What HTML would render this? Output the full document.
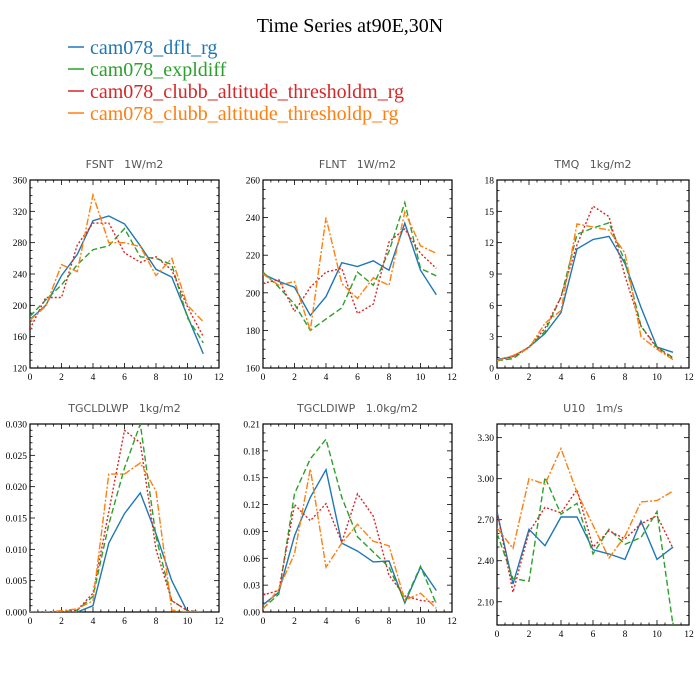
<!DOCTYPE html>
<html><head><meta charset="utf-8"><style>
body{margin:0;background:#fff}
svg{display:block}
.tl{font-family:"Liberation Serif",serif;font-size:9.5px;fill:#000}
.pt{font-family:"DejaVu Sans",sans-serif;font-size:11px;fill:#555;white-space:pre}
</style></head><body>
<svg id="c" width="700" height="700" viewBox="0 0 700 700">
<text x="350" y="32" text-anchor="middle" font-family="Liberation Serif,serif" font-size="20">Time Series at90E,30N</text>
<g>
<g><line x1="68" y1="47" x2="84" y2="47" stroke="#1f77b4" stroke-width="1.5"/><text x="90" y="54" font-family="Liberation Serif,serif" font-size="20" fill="#1f77b4">cam078_dflt_rg</text></g>
<g><line x1="68" y1="69" x2="84" y2="69" stroke="#2ca02c" stroke-width="1.5"/><text x="90" y="76" font-family="Liberation Serif,serif" font-size="20" fill="#2ca02c">cam078_expldiff</text></g>
<g><line x1="68" y1="91" x2="84" y2="91" stroke="#d62728" stroke-width="1.5"/><text x="90" y="98" font-family="Liberation Serif,serif" font-size="20" fill="#d62728">cam078_clubb_altitude_thresholdm_rg</text></g>
<g><line x1="68" y1="113" x2="84" y2="113" stroke="#ff7f0e" stroke-width="1.5"/><text x="90" y="120" font-family="Liberation Serif,serif" font-size="20" fill="#ff7f0e">cam078_clubb_altitude_thresholdp_rg</text></g>
</g>
</svg>
<script>
const months=[0,1,2,3,4,5,6,7,8,9,10,11];
const xTicks=[0,2,4,6,8,10,12];
const fsntDflt=[182,200,238,265,308,314,304,276,246,236,186,138];
const fsntExpl=[186,207,226,252,271,276,298,262,260,252,184,152];
const fsntTm=[170,210,210,277,305,305,267,255,262,245,198,160];
const fsntTp=[181,199,252,243,341,280,280,275,238,260,200,179];
const flntDflt=[210,206,203,188,198,216,214,217,212,237,212,199];
const flntExpl=[211,203,194,180,186,192,211,204,222,248,213,209];
const flntTm=[205,207,190,203,211,213,189,194,227,234,221,213];
const flntTp=[210,204,206,180,240,205,197,208,204,243,225,221];
const tmqDflt=[0.8,1.1,2.0,3.3,5.3,11.4,12.3,12.6,10,5.8,2.0,1.5];
const tmqExpl=[0.7,0.9,2.0,3.5,6.8,12.8,13.4,13.9,10.2,4.0,2.0,1.0];
const tmqTm=[0.7,1.1,2.0,3.8,6.8,11.8,15.5,14.5,8.8,4.0,1.9,0.9];
const tmqTp=[0.7,1.2,1.9,4.3,5.5,13.8,13.5,13.2,11.0,3.0,1.8,0.8];
const lwpDflt=[0,0,0,0,0.001,0.011,0.0157,0.019,0.0125,0.005,0,0];
const lwpExpl=[0,0,0,0.0003,0.0025,0.014,0.023,0.030,0.012,0.0018,0.0002,0];
const lwpTm=[0,0,0,0.0003,0.003,0.016,0.029,0.027,0.010,0.0018,0.0002,0];
const lwpTp=[0,0,0.0002,0.0005,0.0018,0.022,0.022,0.0238,0.0193,0.0003,0,0];
const iwpDflt=[0.008,0.022,0.085,0.128,0.159,0.077,0.068,0.056,0.057,0.010,0.050,0.024];
const iwpExpl=[0.004,0.020,0.132,0.171,0.193,0.128,0.084,0.067,0.050,0.012,0.051,0.009];
const iwpTm=[0.019,0.024,0.120,0.102,0.121,0.078,0.132,0.107,0.041,0.018,0.013,0.011];
const iwpTp=[0.003,0.026,0.065,0.160,0.050,0.077,0.098,0.079,0.074,0.013,0.021,0.004];
const u10Dflt=[2.76,2.23,2.63,2.51,2.72,2.72,2.48,2.45,2.41,2.69,2.41,2.50];
const u10Expl=[2.60,2.27,2.25,3.01,2.74,2.82,2.45,2.63,2.52,2.57,2.76,1.93];
const u10Tm=[2.76,2.17,2.61,2.79,2.75,2.92,2.50,2.62,2.56,2.67,2.73,2.49];
const u10Tp=[2.64,2.49,3.00,2.96,3.22,2.90,2.66,2.42,2.58,2.83,2.84,2.91];
const fsntTicks=["120","160","200","240","280","320","360"];
const flntTicks=["160","180","200","220","240","260"];
const tmqTicks=["0","3","6","9","12","15","18"];
const lwpTicks=["0.000","0.005","0.010","0.015","0.020","0.025","0.030"];
const iwpTicks=["0.00","0.03","0.06","0.09","0.12","0.15","0.18","0.21"];
const u10Ticks=["2.10","2.40","2.70","3.00","3.30"];

const NS="http://www.w3.org/2000/svg";
const svg=document.getElementById('c');
const colors=["#1f77b4","#2ca02c","#d62728","#ff7f0e"];
const dashes=["","6,3","2,2","7,2,2,2"];
const snames=["dflt","expldiff","thresholdm","thresholdp"];
function mk(t,a,p){const e=document.createElementNS(NS,t);for(const k in a)e.setAttribute(k,a[k]);(p||svg).appendChild(e);return e;}

function panel(id,title,x0,x1,y0,y1,ymin,ymax,yt,ytMinor,series){
  const g=mk('g',{});
  
  
  const sx=v=>x0+(v-0)/12*(x1-x0);
  const sy=v=>y1-(v-ymin)/(ymax-ymin)*(y1-y0);
  const cid='clip-'+id;
  const cp=mk('clipPath',{id:cid},g);mk('rect',{x:x0,y:y0,width:x1-x0,height:y1-y0},cp);
  const t=mk('text',{x:(x0+x1)/2,y:y0-12,'text-anchor':'middle',class:'pt'},g);
  
  
  t.setAttributeNS('http://www.w3.org/XML/1998/namespace','xml:space','preserve');
  t.textContent=title;
  const fr=mk('rect',{x:x0,y:y0,width:x1-x0,height:y1-y0,fill:'none',stroke:'#000','stroke-width':1.2},g);
  
  
  for(let v=0;v<=12.001;v+=0.5){
    const X=sx(v),maj=Math.abs(v%2)<1e-6,L=maj?5:2.5;
    mk('line',{x1:X,y1:y1,x2:X,y2:y1-L,stroke:'#000','stroke-width':0.8},g);
    mk('line',{x1:X,y1:y0,x2:X,y2:y0+L,stroke:'#000','stroke-width':0.8},g);
  }
  xTicks.forEach(v=>{const e=mk('text',{x:sx(v),y:y1+12,'text-anchor':'middle',class:'tl'},g);
    
    
    e.textContent=v;});
  const step=(ymax0(yt)-parseFloat(yt[0]))/(yt.length-1);
  const ys=parseFloat(yt[0]);
  for(let v=ys-step;v<=ymax+1e-9;v+=step/ytMinor){
    if(v<ymin-1e-9)continue;
    const Y=sy(v),k=Math.round((v-ys)/step*ytMinor),maj=k%ytMinor===0,L=maj?5:2.5;
    mk('line',{x1:x0,y1:Y,x2:x0+L,y2:Y,stroke:'#000','stroke-width':0.8},g);
    mk('line',{x1:x1,y1:Y,x2:x1-L,y2:Y,stroke:'#000','stroke-width':0.8},g);
  }
  yt.forEach(s=>{const e=mk('text',{x:x0-3,y:sy(parseFloat(s))+3.5,'text-anchor':'end',class:'tl'},g);
    
    
    e.textContent=s;});
  const lg=mk('g',{'clip-path':'url(#'+cid+')'},g);
  series.forEach((arr,i)=>{
    const pts=arr.map((v,j)=>sx(months[j]).toFixed(1)+','+sy(v).toFixed(1)).join(' ');
    const p=mk('polyline',{points:pts,fill:'none',stroke:colors[i],'stroke-width':1.4,'stroke-dasharray':dashes[i]},lg);
    
    
  });
}
function ymax0(yt){return parseFloat(yt[yt.length-1]);}
panel('fsnt','FSNT   1W/m2',30,219,180,368,120,360,fsntTicks,4,[fsntDflt,fsntExpl,fsntTm,fsntTp]);
panel('flnt','FLNT   1W/m2',263,452,180,368,160,260,flntTicks,4,[flntDflt,flntExpl,flntTm,flntTp]);
panel('tmq','TMQ   1kg/m2',497,689,180,368,0,18,tmqTicks,3,[tmqDflt,tmqExpl,tmqTm,tmqTp]);
panel('tgcldlwp','TGCLDLWP   1kg/m2',30,219,424,612,0,0.030,lwpTicks,5,[lwpDflt,lwpExpl,lwpTm,lwpTp]);
panel('tgcldiwp','TGCLDIWP   1.0kg/m2',263,452,424,612,0,0.21,iwpTicks,3,[iwpDflt,iwpExpl,iwpTm,iwpTp]);
panel('u10','U10   1m/s',497,689,424,625,1.93,3.40,u10Ticks,3,[u10Dflt,u10Expl,u10Tm,u10Tp]);
</script>
</body></html>
